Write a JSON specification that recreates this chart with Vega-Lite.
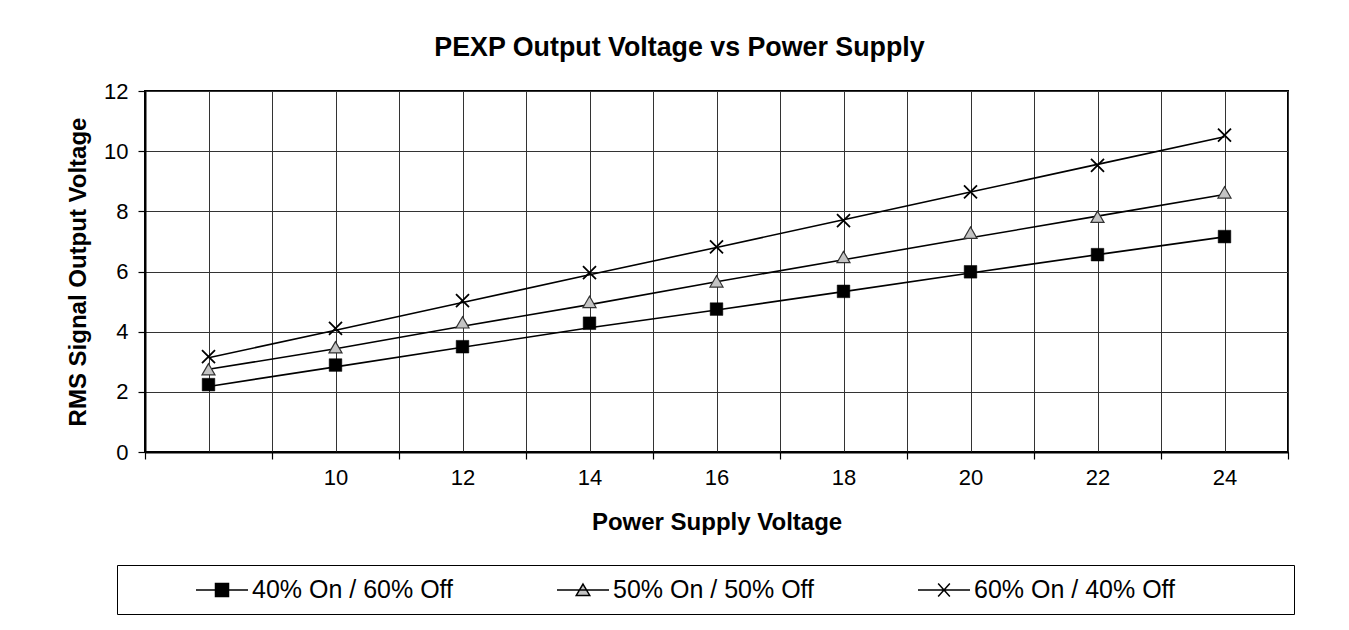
{
  "$schema": "https://vega.github.io/schema/vega-lite/v6.json",
  "autosize": "none",
  "padding": {"left": 145, "top": 91, "right": 61, "bottom": 178},
  "width": 1143,
  "height": 361,
  "background": "white",
  "title": {
    "text": "PEXP Output Voltage vs Power Supply",
    "font": "Liberation Sans",
    "fontSize": 26.8,
    "fontWeight": "bold",
    "color": "black",
    "anchor": "middle",
    "frame": "group",
    "dx": -37,
    "baseline": "alphabetic",
    "offset": -3
  },
  "data": {
    "values": [
      {"x": 8, "series": "40% On / 60% Off", "v": 2.24, "fit": 2.18},
      {"x": 10, "series": "40% On / 60% Off", "v": 2.89, "fit": 2.83},
      {"x": 12, "series": "40% On / 60% Off", "v": 3.50, "fit": 3.48},
      {"x": 14, "series": "40% On / 60% Off", "v": 4.28, "fit": 4.13},
      {"x": 16, "series": "40% On / 60% Off", "v": 4.75, "fit": 4.72},
      {"x": 18, "series": "40% On / 60% Off", "v": 5.34, "fit": 5.33},
      {"x": 20, "series": "40% On / 60% Off", "v": 5.99, "fit": 5.95},
      {"x": 22, "series": "40% On / 60% Off", "v": 6.56, "fit": 6.56},
      {"x": 24, "series": "40% On / 60% Off", "v": 7.16, "fit": 7.15},
      {"x": 8, "series": "50% On / 50% Off", "v": 2.75, "fit": 2.75},
      {"x": 10, "series": "50% On / 50% Off", "v": 3.48, "fit": 3.43},
      {"x": 12, "series": "50% On / 50% Off", "v": 4.31, "fit": 4.18},
      {"x": 14, "series": "50% On / 50% Off", "v": 4.99, "fit": 4.90},
      {"x": 16, "series": "50% On / 50% Off", "v": 5.67, "fit": 5.66},
      {"x": 18, "series": "50% On / 50% Off", "v": 6.48, "fit": 6.39},
      {"x": 20, "series": "50% On / 50% Off", "v": 7.29, "fit": 7.12},
      {"x": 22, "series": "50% On / 50% Off", "v": 7.82, "fit": 7.84},
      {"x": 24, "series": "50% On / 50% Off", "v": 8.63, "fit": 8.56},
      {"x": 8, "series": "60% On / 40% Off", "v": 3.17, "fit": 3.13},
      {"x": 10, "series": "60% On / 40% Off", "v": 4.11, "fit": 4.05},
      {"x": 12, "series": "60% On / 40% Off", "v": 5.03, "fit": 4.97},
      {"x": 14, "series": "60% On / 40% Off", "v": 5.96, "fit": 5.89},
      {"x": 16, "series": "60% On / 40% Off", "v": 6.82, "fit": 6.80},
      {"x": 18, "series": "60% On / 40% Off", "v": 7.69, "fit": 7.72},
      {"x": 20, "series": "60% On / 40% Off", "v": 8.65, "fit": 8.64},
      {"x": 22, "series": "60% On / 40% Off", "v": 9.53, "fit": 9.56},
      {"x": 24, "series": "60% On / 40% Off", "v": 10.53, "fit": 10.48}
    ]
  },
  "encoding": {
    "x": {
      "field": "x",
      "type": "quantitative",
      "scale": {"domain": [7, 25], "nice": false, "zero": false},
      "axis": {
        "values": [7, 8, 9, 10, 11, 12, 13, 14, 15, 16, 17, 18, 19, 20, 21, 22, 23, 24, 25],
        "grid": true,
        "gridColor": "#333333",
        "gridWidth": 1,
        "tickSize": 7,
        "tickColor": "black",
        "tickWidth": 1.2,
        "tickOpacity": {"condition": {"test": "datum.value % 2 == 1", "value": 1}, "value": 0},
        "labelExpr": "datum.value % 2 == 0 && datum.value >= 10 ? datum.label : ''",
        "labelOverlap": false,
        "labelFlush": false,
        "labelFont": "Liberation Sans",
        "labelFontSize": 22,
        "labelColor": "black",
        "labelPadding": 8,
        "domainColor": "black",
        "domainWidth": 2,
        "title": "Power Supply Voltage",
        "titleFont": "Liberation Sans",
        "titleFontSize": 24,
        "titleFontWeight": "bold",
        "titleColor": "black",
        "titlePadding": 22
      }
    }
  },
  "layer": [
    {
      "mark": {"type": "line", "color": "black", "strokeWidth": 1.6},
      "encoding": {
        "y": {
          "field": "fit",
          "type": "quantitative",
          "scale": {"domain": [0, 12], "nice": false},
          "axis": {
            "values": [0, 2, 4, 6, 8, 10, 12],
            "grid": true,
            "gridColor": "#333333",
            "gridWidth": 1,
            "tickSize": 7,
            "tickColor": "black",
            "tickWidth": 1.2,
            "labelFont": "Liberation Sans",
            "labelFontSize": 22,
            "labelColor": "black",
            "labelPadding": 10,
            "domainColor": "black",
            "domainWidth": 2,
            "title": "RMS Signal Output Voltage",
            "titleFont": "Liberation Sans",
            "titleFontSize": 24,
            "titleFontWeight": "bold",
            "titleColor": "black",
            "titlePadding": 13
          }
        },
        "detail": {"field": "series", "type": "nominal"}
      }
    },
    {
      "transform": [{"filter": "datum.series == '40% On / 60% Off'"}],
      "mark": {"type": "point", "shape": "square", "filled": true, "fill": "black", "stroke": "black", "strokeWidth": 0.5, "size": 160, "opacity": 1},
      "encoding": {"y": {"field": "v", "type": "quantitative"}}
    },
    {
      "transform": [{"filter": "datum.series == '50% On / 50% Off'"}],
      "mark": {"type": "point", "shape": "triangle-up", "filled": true, "fill": "#c4c4c4", "stroke": "#333333", "strokeWidth": 1.2, "size": 170, "opacity": 1},
      "encoding": {"y": {"field": "v", "type": "quantitative"}}
    },
    {
      "transform": [{"filter": "datum.series == '60% On / 40% Off'"}],
      "mark": {"type": "point", "shape": "M-1,-1L1,1M-1,1L1,-1", "filled": false, "stroke": "black", "strokeWidth": 1.8, "size": 169, "opacity": 1},
      "encoding": {"y": {"field": "v", "type": "quantitative"}}
    },
    {
      "mark": {"type": "point", "filled": true, "strokeWidth": 1.5, "size": 676, "opacity": 0},
      "encoding": {
        "y": {"field": "v", "type": "quantitative"},
        "shape": {
          "field": "series",
          "type": "nominal",
          "title": "\u00a0",
          "scale": {
            "domain": ["40% On / 60% Off", "50% On / 50% Off", "60% On / 40% Off"],
            "range": [
              "M-1,0H3M0.5,-0.5H1.5V0.5H0.5Z",
              "M-1,0H3M1,-0.46L1.52,0.42L0.48,0.42Z",
              "M-1,0H3M0.55,-0.5L1.45,0.5M0.55,0.5L1.45,-0.5M26.8,0"
            ]
          },
          "legend": {
            "orient": "none",
            "legendX": -28,
            "legendY": 474,
            "direction": "horizontal",
            "columns": 3,
            "strokeColor": "black",
            "padding": 11,
            "titleOrient": "left",
            "titleFontSize": 25,
            "titlePadding": 67,
            "symbolSize": 676,
            "symbolOpacity": 1,
            "symbolStrokeWidth": 1.5,
            "labelFont": "Liberation Sans",
            "labelFontSize": 25,
            "labelColor": "black",
            "labelOffset": 29,
            "labelLimit": 400,
            "columnPadding": 100
          }
        },
        "fill": {
          "field": "series",
          "type": "nominal",
          "title": "\u00a0",
          "scale": {
            "domain": ["40% On / 60% Off", "50% On / 50% Off", "60% On / 40% Off"],
            "range": ["black", "#c4c4c4", "transparent"]
          },
          "legend": {
            "orient": "none",
            "legendX": -28,
            "legendY": 474,
            "direction": "horizontal",
            "columns": 3,
            "strokeColor": "black",
            "padding": 11,
            "titleOrient": "left",
            "titleFontSize": 25,
            "titlePadding": 67,
            "symbolSize": 676,
            "symbolOpacity": 1,
            "symbolStrokeWidth": 1.5,
            "labelFont": "Liberation Sans",
            "labelFontSize": 25,
            "labelColor": "black",
            "labelOffset": 29,
            "labelLimit": 400,
            "columnPadding": 100
          }
        },
        "stroke": {
          "field": "series",
          "type": "nominal",
          "title": "\u00a0",
          "scale": {
            "domain": ["40% On / 60% Off", "50% On / 50% Off", "60% On / 40% Off"],
            "range": ["black", "black", "black"]
          },
          "legend": {
            "orient": "none",
            "legendX": -28,
            "legendY": 474,
            "direction": "horizontal",
            "columns": 3,
            "strokeColor": "black",
            "padding": 11,
            "titleOrient": "left",
            "titleFontSize": 25,
            "titlePadding": 67,
            "symbolSize": 676,
            "symbolOpacity": 1,
            "symbolStrokeWidth": 1.5,
            "labelFont": "Liberation Sans",
            "labelFontSize": 25,
            "labelColor": "black",
            "labelOffset": 29,
            "labelLimit": 400,
            "columnPadding": 100
          }
        }
      }
    }
  ],
  "config": {
    "view": {"stroke": "black", "strokeWidth": 2},
    "font": "Liberation Sans"
  }
}
